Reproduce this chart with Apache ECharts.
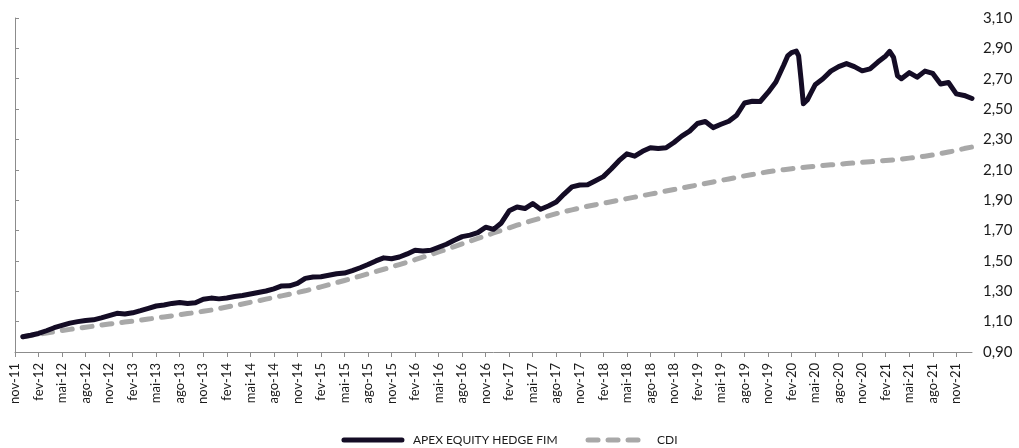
<!DOCTYPE html>
<html>
<head>
<meta charset="utf-8">
<script src="https://cdn.jsdelivr.net/npm/echarts@6/dist/echarts.min.js"></script>
<style>
  html, body { margin: 0; padding: 0; background: #fff; }
  #chart { width: 1019px; height: 448px; }
</style>
</head>
<body>
<div id="chart"></div>
<script>
// x positions are months counted from nov-11
const tickLabels = ['nov-11', 'fev-12', 'mai-12', 'ago-12', 'nov-12', 'fev-13', 'mai-13', 'ago-13', 'nov-13',
  'fev-14', 'mai-14', 'ago-14', 'nov-14', 'fev-15', 'mai-15', 'ago-15', 'nov-15', 'fev-16', 'mai-16', 'ago-16',
  'nov-16', 'fev-17', 'mai-17', 'ago-17', 'nov-17', 'fev-18', 'mai-18', 'ago-18', 'nov-18', 'fev-19', 'mai-19',
  'ago-19', 'nov-19', 'fev-20', 'mai-20', 'ago-20', 'nov-20', 'fev-21', 'mai-21', 'ago-21', 'nov-21']

const fundMonths = [1, 2, 3, 4, 5, 6, 7, 8, 9, 10, 11, 12, 13, 14, 15, 16, 17, 18, 19, 20,
  21, 22, 23, 24, 25, 26, 27, 28, 29, 30, 31, 32, 33, 34, 35, 36, 37, 38, 39, 40,
  41, 42, 43, 44, 45, 46, 47, 48, 49, 50, 51, 52, 53, 54, 55, 56, 57, 58, 59, 60,
  61, 62, 63, 64, 65, 66, 67, 68, 69, 70, 71, 72, 73, 74, 75, 76, 77, 78, 79, 80,
  81, 82, 83, 84, 85, 86, 87, 88, 89, 90, 91, 92, 93, 94, 95, 96, 97, 98, 98.5, 99,
  99.6, 99.9, 100.2, 100.5, 101, 101.5, 102, 103, 104, 105, 106, 107, 108, 109, 110, 111, 111.5, 112, 112.5, 113,
  114, 115, 116, 117, 118, 119, 120, 121, 122]
const fundValues = [1.000, 1.010, 1.022, 1.040, 1.060, 1.075, 1.090, 1.100, 1.108, 1.112, 1.125, 1.140, 1.155, 1.150, 1.158, 1.172, 1.188, 1.203, 1.210, 1.220,
  1.226, 1.220, 1.224, 1.248, 1.255, 1.250, 1.256, 1.265, 1.272, 1.282, 1.292, 1.302, 1.316, 1.335, 1.336, 1.352, 1.385, 1.394, 1.396, 1.405,
  1.415, 1.420, 1.436, 1.455, 1.476, 1.500, 1.520, 1.514, 1.526, 1.546, 1.570, 1.566, 1.570, 1.590, 1.610, 1.636, 1.660, 1.670, 1.686, 1.722,
  1.708, 1.750, 1.830, 1.855, 1.845, 1.878, 1.840, 1.862, 1.888, 1.940, 1.988, 2.000, 2.002, 2.028, 2.055, 2.105, 2.160, 2.205, 2.190, 2.222,
  2.245, 2.240, 2.245, 2.280, 2.322, 2.355, 2.405, 2.418, 2.378, 2.400, 2.420, 2.460, 2.540, 2.552, 2.550, 2.610, 2.678, 2.790, 2.850, 2.872,
  2.882, 2.850, 2.700, 2.535, 2.560, 2.610, 2.660, 2.700, 2.750, 2.780, 2.800, 2.780, 2.752, 2.765, 2.810, 2.850, 2.880, 2.840, 2.720, 2.700,
  2.740, 2.710, 2.750, 2.735, 2.665, 2.675, 2.600, 2.590, 2.570]

// CDI, one value per month starting at month 1
const cdiValues = [1.000, 1.009, 1.017, 1.025, 1.033, 1.041, 1.049, 1.056, 1.063, 1.070, 1.077, 1.084, 1.091,
  1.097, 1.103, 1.110, 1.117, 1.124, 1.131, 1.138, 1.145, 1.153, 1.160, 1.168, 1.176,
  1.186, 1.196, 1.206, 1.216, 1.227, 1.237, 1.248, 1.259, 1.270, 1.281, 1.292, 1.303,
  1.316, 1.329, 1.343, 1.357, 1.371, 1.385, 1.400, 1.415, 1.430, 1.445, 1.460, 1.476,
  1.492, 1.508, 1.525, 1.542, 1.559, 1.576, 1.594, 1.612, 1.630, 1.648, 1.666, 1.684,
  1.701, 1.718, 1.735, 1.751, 1.767, 1.782, 1.797, 1.811, 1.824, 1.836, 1.848, 1.860,
  1.870, 1.880, 1.890, 1.900, 1.910, 1.920, 1.930, 1.940, 1.950, 1.960, 1.970, 1.980,
  1.990, 2.000, 2.010, 2.020, 2.030, 2.040, 2.050, 2.060, 2.069, 2.078, 2.087, 2.095,
  2.101, 2.107, 2.113, 2.119, 2.124, 2.129, 2.133, 2.137, 2.141, 2.145, 2.149, 2.153,
  2.157, 2.161, 2.166, 2.171, 2.177, 2.183, 2.190, 2.198, 2.207, 2.217, 2.228, 2.240, 2.250]

const font = 'Lato'
const textColor = '#1a1a1a'

const chart = echarts.init(document.getElementById('chart'))

const option = {
  animation: false,
  textStyle: {fontFamily: font},
  grid: {left: 15, right: 47, top: 18, bottom: 96},
  legend: {
    top: 434,
    left: 'center',
    padding: 0,
    itemWidth: 58,
    itemHeight: 14,
    itemGap: 28,
    lineStyle: {width: 5, cap: 'round'},
    itemStyle: {opacity: 0},
    textStyle: {fontFamily: font, fontSize: 12, color: textColor, padding: [0, 0, 0, 6]},
    data: ['APEX EQUITY HEDGE FIM', 'CDI']
  },
  xAxis: {
    type: 'value',
    min: 0,
    max: 122,
    interval: 3,
    splitLine: {show: false},
    axisLine: {lineStyle: {color: '#8c8c8c', width: 1}},
    axisTick: {length: 5, lineStyle: {color: '#8c8c8c'}},
    axisLabel: {
      rotate: 90,
      margin: 11,
      fontSize: 13,
      color: textColor,
      showMaxLabel: false,
      formatter: v => (v % 3 === 0 && tickLabels[v / 3]) ? tickLabels[v / 3] : ''
    }
  },
  yAxis: {
    type: 'value',
    position: 'right',
    min: 0.9,
    max: 3.1,
    interval: 0.2,
    splitLine: {show: false},
    axisLine: {show: true, lineStyle: {color: '#8c8c8c', width: 1}},
    axisTick: {show: true, length: 4, lineStyle: {color: '#8c8c8c'}},
    axisLabel: {
      margin: 11,
      fontSize: 15,
      color: textColor,
      formatter: v => v.toFixed(2).replace('.', ',')
    }
  },
  series: [
    {
      name: 'APEX EQUITY HEDGE FIM',
      type: 'line',
      symbol: 'none',
      z: 3,
      data: fundMonths.map((m, k) => [m, fundValues[k]]),
      lineStyle: {color: '#140c25', width: 5, join: 'round', cap: 'round'},
      itemStyle: {color: '#140c25'}
    },
    {
      name: 'CDI',
      type: 'line',
      symbol: 'none',
      z: 2,
      data: cdiValues.map((v, k) => [k + 1, v]),
      lineStyle: {color: '#a8a8a8', width: 5, type: [10, 10], cap: 'round', join: 'round'},
      itemStyle: {color: '#a8a8a8'}
    }
  ]
}

chart.setOption(option)
</script>
</body>
</html>
